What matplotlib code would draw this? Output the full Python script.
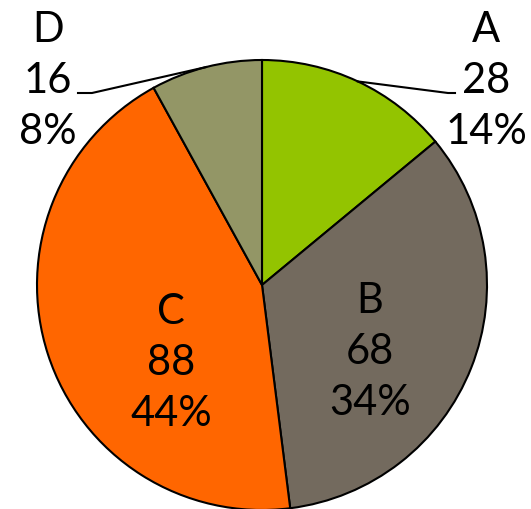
import numpy as np
import matplotlib.pyplot as plt

labels = ["A", "B", "C", "D"]
values = [28, 68, 88, 16]
colors = ["#93C400", "#736A5E", "#FF6600", "#939666"]

W, H = 531, 509
cx, cy, r_px = 262.0, 285.0, 225.0


def to_data(x, y):
    # pixel position (from top-left) -> data coords of the pie axes
    return (x - cx) / r_px, (cy - y) / r_px


fig = plt.figure(figsize=(W / 100, H / 100), dpi=100)
ax = fig.add_axes([0, 0, 1, 1])

wedges, _ = ax.pie(values, colors=colors, startangle=90, counterclock=False,
                   radius=1, wedgeprops=dict(edgecolor="black", linewidth=1.5))
ax.set_xlim(-cx / r_px, (W - cx) / r_px)
ax.set_ylim(-(H - cy) / r_px, cy / r_px)
ax.set_aspect("equal")
ax.axis("off")

total = sum(values)
txt = [f"{l}\n{v}\n{round(v / total * 100)}%" for l, v in zip(labels, values)]
font = dict(family="Lato", fontsize=30, ha="center", va="center",
            linespacing=1.42)

label_pos = {0: (486, 81), 1: (370, 352), 2: (171, 363), 3: (48, 81)}
leader_end = {0: (448, 455), 3: (92, 78)}
leader_y = 93

for i, w in enumerate(wedges):
    tx, ty = to_data(*label_pos[i])
    ax.text(tx, ty, txt[i], **font)
    if i in leader_end:
        mid = np.deg2rad((w.theta1 + w.theta2) / 2)
        px, py = np.cos(mid), np.sin(mid)
        x1, ly = to_data(leader_end[i][0], leader_y)
        x2, _ = to_data(leader_end[i][1], leader_y)
        ax.plot([px, x1, x2], [py, ly, ly], color="black", lw=1.5)

fig.savefig("out.png", dpi=100)
